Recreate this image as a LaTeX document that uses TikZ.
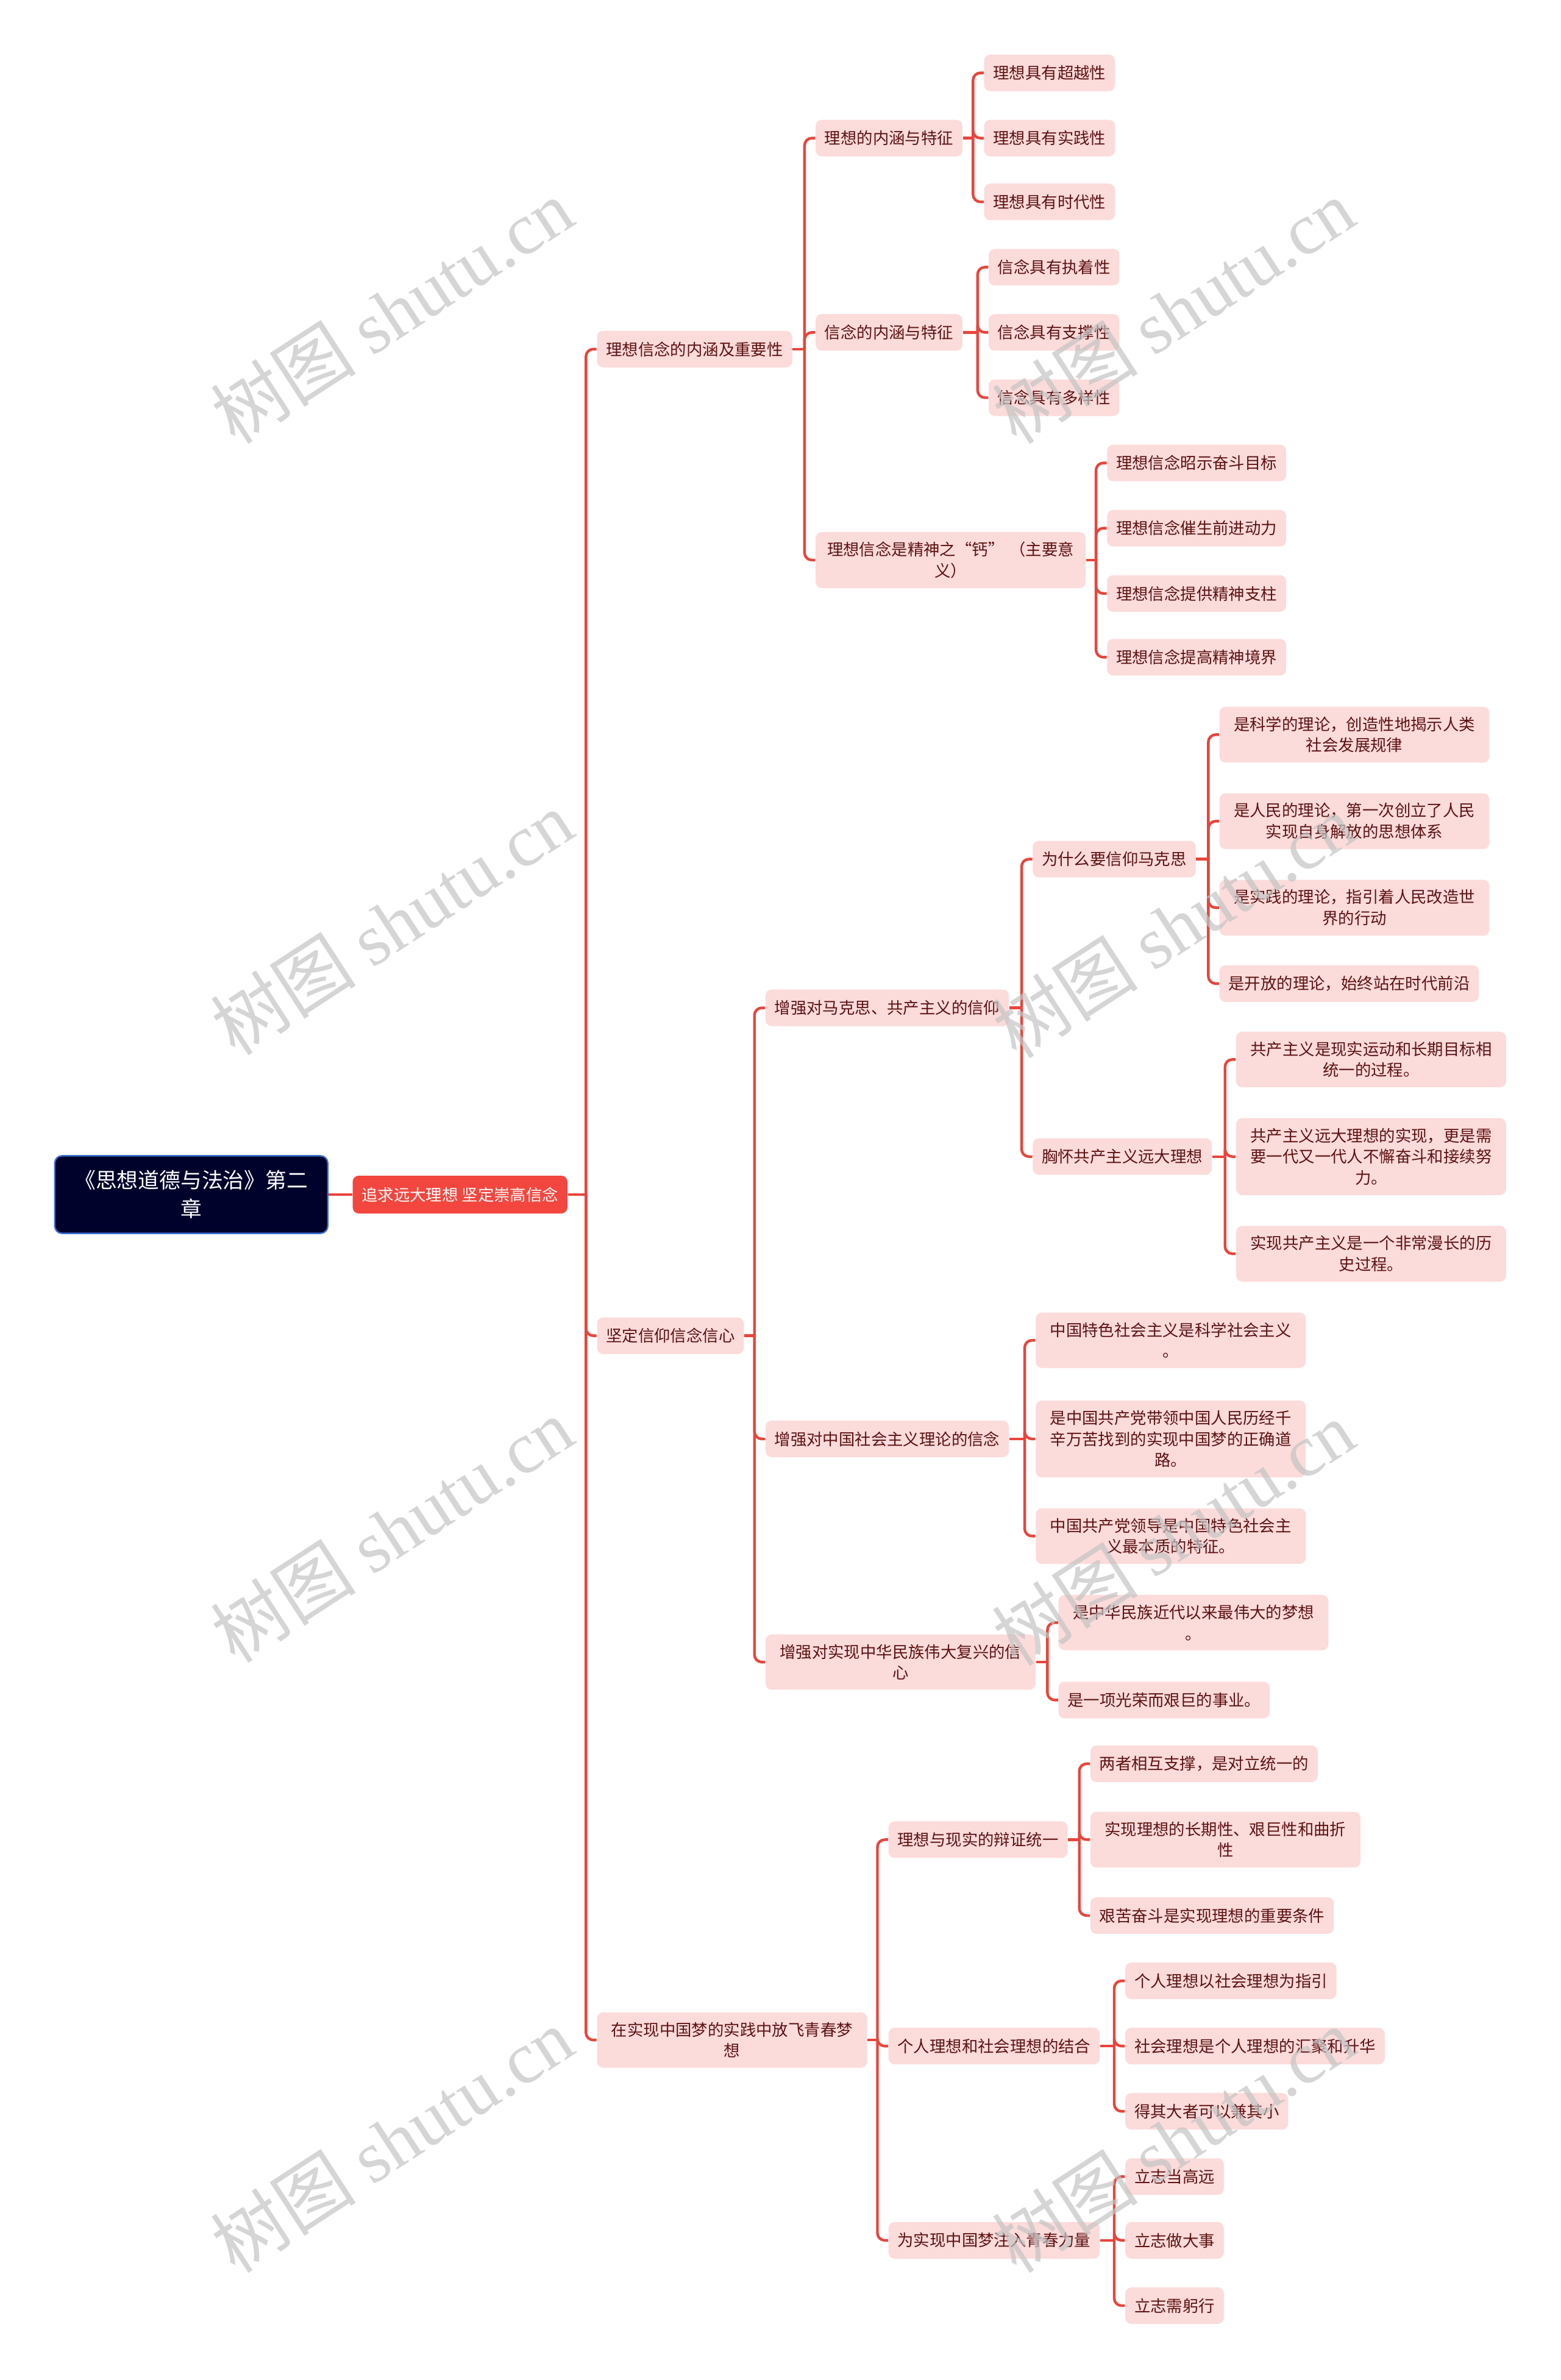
\documentclass[tikz,border=0pt]{standalone}
\usepackage{fontspec}
\setmainfont{Noto Sans CJK SC}
\newfontfamily\wmserif{Liberation Serif}
\definecolor{pinkfill}{HTML}{FCDBDB}
\definecolor{txtc}{HTML}{5E1212}
\definecolor{linec}{HTML}{E8453C}
\definecolor{rootfill}{HTML}{00022B}
\definecolor{rootborder}{HTML}{3C6ECC}
\definecolor{redfill}{HTML}{F2463E}
\definecolor{wmc}{HTML}{C4C4C4}
\newcommand\kids[3]{%
  \draw[conn] (#1.east) -- (#2,0 |- #1.east);
  \foreach \c in {#3}{\draw[conn,rounded corners=3pt] (#2,0 |- #1.east) |- (\c.west);}%
}
\begin{document}
\begin{tikzpicture}[x=0.6226pt,y=-0.6226pt,
  conn/.style={draw=linec,line width=1.1pt},
  topic/.style={fill=pinkfill,text=txtc,rounded corners=2.5pt,anchor=west,inner xsep=3.7pt,inner ysep=4pt,minimum height=15pt,font=\fontsize{6.6}{8.7}\selectfont},
  wide/.style={topic,text width=103.3pt,align=center},
  rootbox/.style={fill=rootfill,draw=rootborder,line width=0.6pt,text=white,rounded corners=3pt,minimum width=112pt,minimum height=31.8pt,align=center,font=\fontsize{8.7}{11.8}\selectfont},
  redbox/.style={fill=redfill,text=white,rounded corners=2.5pt,anchor=west,inner xsep=3.7pt,inner ysep=4pt,minimum height=15.5pt,font=\fontsize{6.6}{8.7}\selectfont},
  wm/.style={text=wmc,opacity=0.7,rotate=33,inner sep=0pt,font=\fontsize{30}{30}\selectfont}
]
\useasboundingbox[fill=white] (0,0) rectangle (1028,1568);

% root and level 1
\node[rootbox] (root) at (126,787) {《思想道德与法治》第二\\章};
\node[redbox] (L1) at (232,787) {追求远大理想 坚定崇高信念};

% level 2
\node[topic] (A) at (393,230) {理想信念的内涵及重要性};
\node[topic] (B) at (393,880) {坚定信仰信念信心};
\node[wide] (C) at (393,1344) {在实现中国梦的实践中放飞青春梦\\想};

% A branch
\node[topic] (A1) at (537,91) {理想的内涵与特征};
\node[topic] (A2) at (537,219) {信念的内涵与特征};
\node[wide] (A3) at (537,369) {理想信念是精神之“钙” （主要意\\义）};
\node[topic] (A1a) at (648,48) {理想具有超越性};
\node[topic] (A1b) at (648,91) {理想具有实践性};
\node[topic] (A1c) at (648,133) {理想具有时代性};
\node[topic] (A2a) at (651,176) {信念具有执着性};
\node[topic] (A2b) at (651,219) {信念具有支撑性};
\node[topic] (A2c) at (651,262) {信念具有多样性};
\node[topic] (A3a) at (729,305) {理想信念昭示奋斗目标};
\node[topic] (A3b) at (729,348) {理想信念催生前进动力};
\node[topic] (A3c) at (729,391) {理想信念提供精神支柱};
\node[topic] (A3d) at (729,433) {理想信念提高精神境界};

% B branch
\node[topic] (B1) at (504,664) {增强对马克思、共产主义的信仰};
\node[topic] (B2) at (504,948) {增强对中国社会主义理论的信念};
\node[wide] (B3) at (504,1095) {增强对实现中华民族伟大复兴的信\\心};
\node[topic] (B1a) at (680,566) {为什么要信仰马克思};
\node[topic] (B1b) at (680,762) {胸怀共产主义远大理想};
\node[wide] (B1a1) at (803,484) {是科学的理论，创造性地揭示人类\\社会发展规律};
\node[wide] (B1a2) at (803,541) {是人民的理论，第一次创立了人民\\实现自身解放的思想体系};
\node[wide] (B1a3) at (803,598) {是实践的理论，指引着人民改造世\\界的行动};
\node[topic] (B1a4) at (803,648) {是开放的理论，始终站在时代前沿};
\node[wide] (B1b1) at (814,698) {共产主义是现实运动和长期目标相\\统一的过程。};
\node[wide] (B1b2) at (814,762) {共产主义远大理想的实现，更是需\\要一代又一代人不懈奋斗和接续努\\力。};
\node[wide] (B1b3) at (814,826) {实现共产主义是一个非常漫长的历\\史过程。};
\node[wide] (B2a) at (682,883) {中国特色社会主义是科学社会主义\\。};
\node[wide] (B2b) at (682,948) {是中国共产党带领中国人民历经千\\辛万苦找到的实现中国梦的正确道\\路。};
\node[wide] (B2c) at (682,1012) {中国共产党领导是中国特色社会主\\义最本质的特征。};
\node[wide] (B3a) at (697,1069) {是中华民族近代以来最伟大的梦想\\。};
\node[topic] (B3b) at (697,1120) {是一项光荣而艰巨的事业。};

% C branch
\node[topic] (C1) at (585,1212) {理想与现实的辩证统一};
\node[topic] (C2) at (585,1348) {个人理想和社会理想的结合};
\node[topic] (C3) at (585,1476) {为实现中国梦注入青春力量};
\node[topic] (C1a) at (718,1162) {两者相互支撑，是对立统一的};
\node[wide] (C1b) at (718,1212) {实现理想的长期性、艰巨性和曲折\\性};
\node[topic] (C1c) at (718,1262) {艰苦奋斗是实现理想的重要条件};
\node[topic] (C2a) at (741,1305) {个人理想以社会理想为指引};
\node[topic] (C2b) at (741,1348) {社会理想是个人理想的汇聚和升华};
\node[topic] (C2c) at (741,1391) {得其大者可以兼其小};
\node[topic] (C3a) at (741,1434) {立志当高远};
\node[topic] (C3b) at (741,1476) {立志做大事};
\node[topic] (C3c) at (741,1519) {立志需躬行};

% connectors
\draw[conn] (root.east) -- (L1.west);
\kids{L1}{386}{A,B,C}
\kids{A}{530}{A1,A2,A3}
\kids{A1}{641}{A1a,A1b,A1c}
\kids{A2}{644}{A2a,A2b,A2c}
\kids{A3}{722}{A3a,A3b,A3c,A3d}
\kids{B}{497}{B1,B2,B3}
\kids{B1}{673}{B1a,B1b}
\kids{B1a}{796}{B1a1,B1a2,B1a3,B1a4}
\kids{B1b}{807}{B1b1,B1b2,B1b3}
\kids{B2}{675}{B2a,B2b,B2c}
\kids{B3}{690}{B3a,B3b}
\kids{C}{578}{C1,C2,C3}
\kids{C1}{711}{C1a,C1b,C1c}
\kids{C2}{734}{C2a,C2b,C2c}
\kids{C3}{734}{C3a,C3b,C3c}

% watermarks
\node[wm] (wm1) at (258,205) {树图 {\wmserif shutu.cn}};
\node[wm] (wm2) at (258,608) {树图 {\wmserif shutu.cn}};
\node[wm] (wm3) at (258,1008) {树图 {\wmserif shutu.cn}};
\node[wm] (wm4) at (258,1410) {树图 {\wmserif shutu.cn}};
\node[wm] (wm5) at (773,205) {树图 {\wmserif shutu.cn}};
\node[wm] (wm6) at (773,610) {树图 {\wmserif shutu.cn}};
\node[wm] (wm7) at (773,1010) {树图 {\wmserif shutu.cn}};
\node[wm] (wm8) at (773,1410) {树图 {\wmserif shutu.cn}};
\end{tikzpicture}
\end{document}
